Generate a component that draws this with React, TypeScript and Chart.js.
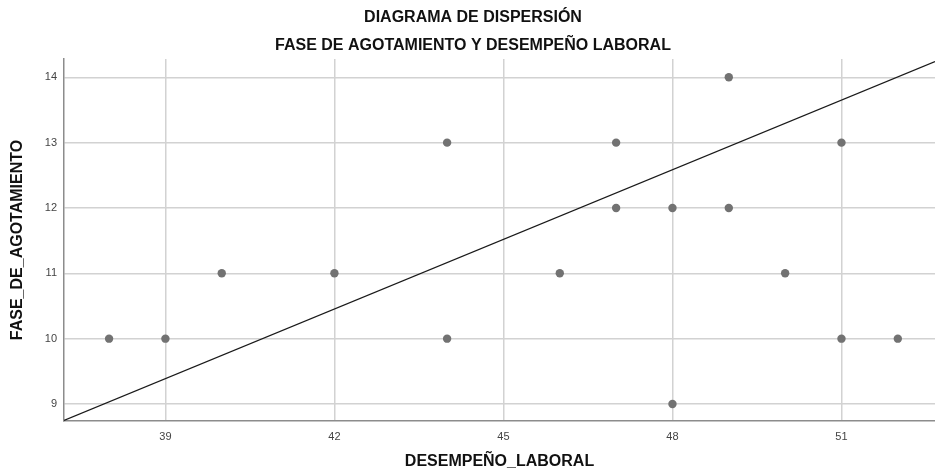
import React, { useEffect, useRef } from "react";
import { Chart, registerables } from "chart.js";

Chart.register(...registerables);

const titleLines = ["DIAGRAMA DE DISPERSIÓN", "FASE DE AGOTAMIENTO Y DESEMPEÑO LABORAL"];
const xAxisTitle = "DESEMPEÑO_LABORAL";
const yAxisTitle = "FASE_DE_AGOTAMIENTO";

const desempeno = [38, 39, 40, 42, 44, 44, 46, 47, 47, 48, 48, 49, 49, 50, 51, 51, 52];
const agotamiento = [10, 10, 11, 11, 13, 10, 11, 13, 12, 12, 9, 14, 12, 11, 13, 10, 10];

const fitX = [37.2, 52.66];
const fitY = [8.75, 14.24];

const xTicks = [39, 42, 45, 48, 51];
const yTicks = [9, 10, 11, 12, 13, 14];
const xRange = [37.2, 52.66];
const yRange = [8.74, 14.28];

const FONT = "'Liberation Sans', Arial, sans-serif";

export default function App() {
  const ref = useRef<HTMLCanvasElement | null>(null);

  useEffect(() => {
    document.body.style.margin = "0";
    const canvas = ref.current;
    if (!canvas) return;

    const titlePlugin = {
      id: "twoLineTitle",
      afterDraw(chart: any) {
        const ctx = chart.ctx;
        ctx.save();
        ctx.fillStyle = "#111";
        ctx.font = `bold 16px ${FONT}`;
        ctx.textAlign = "center";
        ctx.textBaseline = "middle";
        ctx.fillText(titleLines[0], 473, 18);
        ctx.fillText(titleLines[1], 473, 46);
        ctx.restore();
      },
    };

    const chart = new Chart(canvas, {
      type: "scatter",
      data: {
        datasets: [
          {
            label: "fit",
            data: fitX.map((x, i) => ({ x, y: fitY[i] })),
            showLine: true,
            borderColor: "#1a1a1a",
            borderWidth: 1.2,
            pointRadius: 0,
            pointHoverRadius: 0,
            fill: false,
          },
          {
            label: "datos",
            data: desempeno.map((x, i) => ({ x, y: agotamiento[i] })),
            backgroundColor: "#727272",
            borderColor: "#727272",
            pointRadius: 4.2,
            borderWidth: 0,
          },
        ],
      },
      plugins: [titlePlugin],
      options: {
        responsive: false,
        animation: false,
        layout: { autoPadding: false, padding: { top: 59, right: 0, bottom: 0, left: 0 } },
        plugins: {
          legend: { display: false },
          tooltip: { enabled: false },
          title: { display: false },
        },
        scales: {
          x: {
            type: "linear",
            min: xRange[0],
            max: xRange[1],
            afterBuildTicks: (s: any) => {
              s.ticks = xTicks.map((v) => ({ value: v }));
            },
            afterFit: (s: any) => {
              s.height = 53;
            },
            grid: { color: "#d2d2d2", lineWidth: 1.5, drawTicks: false },
            border: { display: true, color: "#8c8c8c", width: 1.5 },
            ticks: {
              color: "#444",
              font: { family: FONT, size: 11 },
              padding: 9,
              maxRotation: 0,
            },
            title: {
              display: true,
              text: xAxisTitle,
              color: "#111",
              font: { family: FONT, size: 16, weight: "bold" },
              padding: { top: 0, bottom: 3 },
            },
          },
          y: {
            type: "linear",
            min: yRange[0],
            max: yRange[1],
            afterBuildTicks: (s: any) => {
              s.ticks = yTicks.map((v) => ({ value: v }));
            },
            afterFit: (s: any) => {
              s.width = 64;
            },
            grid: { color: "#d2d2d2", lineWidth: 1.5, drawTicks: false },
            border: { display: true, color: "#8c8c8c", width: 1.5 },
            ticks: {
              color: "#444",
              font: { family: FONT, size: 11 },
              padding: 7,
            },
            title: {
              display: true,
              text: yAxisTitle,
              color: "#111",
              font: { family: FONT, size: 16, weight: "bold" },
              padding: { top: 8, bottom: 0 },
            },
          },
        },
      },
    });

    return () => chart.destroy();
  }, []);

  return (
    <div style={{ width: 935, height: 474, position: "relative" }}>
      <canvas ref={ref} width={935} height={474} style={{ display: "block" }} />
    </div>
  );
}
